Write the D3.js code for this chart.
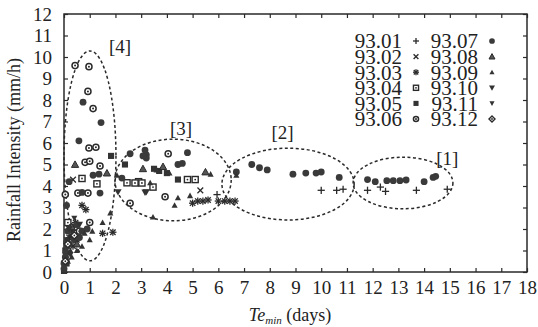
<!DOCTYPE html>
<html><head><meta charset="utf-8">
<script src="https://cdn.jsdelivr.net/npm/d3@7"></script>
<style>body{margin:0;background:#fff}svg{display:block}text{font-family:"Liberation Serif","Times New Roman",Times,serif;fill:#222}</style>
</head><body><svg id="c" width="538" height="327"></svg>
<script>
// ---- data ----
const xTicks = d3.range(0, 19);
const yTicks = d3.range(0, 13);
const seriesNames = ["93.01","93.02","93.03","93.04","93.05","93.06","93.07","93.08","93.09","93.10","93.11","93.12"];
const s9301 = [[0.05,0.3],[0.1,0.8],[0.2,1.5],[5.95,3.6],[10.0,3.8],[10.6,3.8],[10.85,3.85],[11.8,3.8],[12.3,3.95],[12.5,3.75],[13.7,3.8],[14.9,3.85]];
const s9302 = [[0.35,4.3],[5.3,3.8],[0.1,1.2],[0.3,1.9]];
const s9303 = [[5.0,3.2],[5.2,3.3],[5.4,3.3],[5.6,3.35],[6.0,3.3],[6.25,3.3],[6.45,3.3],[6.65,3.3],[1.5,1.8],[1.9,1.85],[0.7,3.1],[0.85,2.9],[0.45,2.3],[0.2,1.6],[0.35,1.2],[0.1,0.6],[0.3,1.7],[0.5,1.5]];
const s9304 = [[0.7,4.35],[1.28,4.1],[2.45,4.15],[2.9,4.2],[2.76,4.14],[3.03,4.14],[3.46,3.95],[4.8,4.3],[5.1,4.3],[0.5,1.8],[0.15,2.3]];
const s9305 = [[1.83,5.4],[2.37,5.0],[4.43,4.3],[0.0,0.05],[0.05,1.0],[0.1,0.4],[3.5,4.8],[3.7,4.7],[4.0,4.6]];
const s9306 = [[0.43,9.6],[0.97,9.55],[0.93,8.4],[1.13,7.6],[0.97,5.77],[1.24,5.8],[0.82,5.1],[1.0,5.15],[1.4,4.93],[0.54,3.67],[0.93,3.67],[1.0,2.3],[2.57,3.2],[4.05,5.5],[3.93,3.5],[0.05,3.6],[0.6,1.9]];
const s9307 = [[0.74,7.9],[1.44,6.95],[0.58,6.1],[1.13,4.5],[1.36,4.55],[1.4,3.67],[0.7,3.7],[0.1,3.1],[0.2,4.2],[2.25,4.37],[2.57,5.5],[3.15,5.67],[3.2,5.45],[3.2,5.3],[4.8,5.55],[4.43,5.0],[4.6,5.05],[3.07,5.4],
  [0.0,0.15],[0.0,0.4],[0.05,0.7],[0.08,0.9],[0.1,1.4],[0.12,1.2],[0.15,1.9],[0.2,1.3],[0.3,2.1],[0.4,1.5],[0.5,2.2],[0.6,1.6],[0.7,1.9],[0.9,2.0],
  [6.7,4.65],[7.3,5.0],[7.6,4.85],[7.9,4.75],[8.9,4.55],[9.4,4.6],[9.8,4.6],[10.0,4.65],[10.7,4.4],[11.8,4.3],[12.1,4.2],[12.55,4.25],[12.8,4.25],[13.06,4.25],[13.3,4.28],[14.0,4.2],[14.35,4.4],[14.45,4.45]];
const s9308 = [[0.43,5.0],[1.67,4.6],[3.07,4.8],[3.85,4.9],[5.5,4.65],[0.5,1.3],[0.3,2.1]];
const s9309 = [[1.8,2.75],[1.5,2.3],[1.0,1.5],[2.06,4.5],[3.35,4.15],[3.6,4.75],[4.1,4.6],[4.43,3.45],[4.3,3.1],[3.46,2.56],[4.9,3.55],[5.7,4.55],[6.7,4.5],[0.8,1.8],[0.25,1.0],
  [0.15,0.5],[0.3,0.7],[0.5,1.0],[0.7,1.2],[1.1,1.9]];
const s9310 = [[2.1,3.72],[3.15,3.7],[3.2,3.72],[0.2,2.0],[0.6,2.2]];
const s9311 = [[0.1,1.5],[0.4,2.5],[0.25,0.8]];
const s9312 = [[0.15,1.3],[0.4,1.7],[0.05,0.5]];
const seriesData = [s9301,s9302,s9303,s9304,s9305,s9306,s9307,s9308,s9309,s9310,s9311,s9312];
// groups: label, center x, center y, radius x, radius y (data units)
const groupLabels = ["[1]","[2]","[3]","[4]"];
const groupEllipses = [[13.18,4.14,1.94,1.2],[8.71,4.09,2.57,1.67],[4.24,4.28,2.26,1.9],[1.01,5.4,1.01,4.88]];
const groupLabelPos = [[14.9,5.0],[8.5,6.2],[4.55,6.35],[2.18,10.2]];

// ---- layout ----
const L=64,R=527,T=14,B=272;
const x=d3.scaleLinear().domain([0,18]).range([L,R]);
const y=d3.scaleLinear().domain([0,12]).range([B,T]);
const svg=d3.select("#c");
const ink="#2a2a2a";
const FF="'Liberation Serif','Times New Roman',Times,serif";

// frame
svg.append("rect").attr("x",L).attr("y",T).attr("width",R-L).attr("height",B-T).attr("fill","none").attr("stroke",ink).attr("stroke-width",1.5);
// axes with inward ticks
const gx=svg.append("g").attr("transform",`translate(0,${B})`).call(d3.axisBottom(x).tickValues(xTicks).tickSizeInner(-4).tickSizeOuter(0).tickPadding(8).tickFormat(d3.format("d")));
const gxt=svg.append("g").attr("transform",`translate(0,${T})`).call(d3.axisTop(x).tickValues(xTicks).tickSizeInner(-4).tickSizeOuter(0).tickFormat(""));
const gy=svg.append("g").attr("transform",`translate(${L},0)`).call(d3.axisLeft(y).tickValues(yTicks).tickSizeInner(-4).tickSizeOuter(0).tickPadding(12).tickFormat(d3.format("d")));
const gyr=svg.append("g").attr("transform",`translate(${R},0)`).call(d3.axisRight(y).tickValues(yTicks).tickSizeInner(-4).tickSizeOuter(0).tickFormat(""));
[gx,gxt,gy,gyr].forEach(g=>{g.attr("font-family",null).attr("font-size",null);g.select(".domain").remove();g.selectAll("line").attr("stroke",ink).attr("stroke-width",1.2);g.selectAll("text").style("font-family",FF).style("font-size","19px").attr("fill","#222");});
gx.selectAll("text").attr("dy","0.72em");

// titles
svg.append("text").attr("transform","translate(20,150) rotate(-90)").attr("text-anchor","middle").style("font-family",FF).style("font-size","18px").text("Rainfall Intensity (mm/h)");
const xt=svg.append("text").attr("x",290).attr("y",321).attr("text-anchor","middle").style("font-family",FF).style("font-size","18px");
xt.append("tspan").style("font-style","italic").text("Te");
xt.append("tspan").style("font-style","italic").style("font-size","11px").attr("dy",3).text("min");
xt.append("tspan").attr("dy",-3).text(" (days)");

// marker drawing
function marker(g,type,cx,cy,s){
  const k=s;
  const p=g.append("g").attr("transform",`translate(${cx},${cy})`);
  const line=(x1,y1,x2,y2)=>p.append("line").attr("x1",x1).attr("y1",y1).attr("x2",x2).attr("y2",y2).attr("stroke",ink).attr("stroke-width",1.3);
  switch(type){
    case 0: line(-k,0,k,0); line(0,-k,0,k); break;
    case 1: line(-k*0.8,-k*0.8,k*0.8,k*0.8); line(-k*0.8,k*0.8,k*0.8,-k*0.8); break;
    case 2: line(-k,0,k,0); line(0,-k,0,k); line(-k*0.75,-k*0.75,k*0.75,k*0.75); line(-k*0.75,k*0.75,k*0.75,-k*0.75); break;
    case 3: p.append("rect").attr("x",-k*0.85).attr("y",-k*0.85).attr("width",k*1.7).attr("height",k*1.7).attr("fill","#fff").attr("stroke",ink).attr("stroke-width",1.4);
            p.append("circle").attr("r",0.9).attr("fill",ink); break;
    case 4: p.append("rect").attr("x",-k*0.85).attr("y",-k*0.85).attr("width",k*1.7).attr("height",k*1.7).attr("fill","#333"); break;
    case 5: p.append("circle").attr("r",k*0.85).attr("fill","#fff").attr("stroke",ink).attr("stroke-width",1.5);
            p.append("circle").attr("r",1).attr("fill",ink); break;
    case 6: p.append("circle").attr("r",k*0.95).attr("fill","#3a3a3a"); break;
    case 7: p.append("path").attr("d",`M0,${-k}L${k},${k*0.8}L${-k},${k*0.8}Z`).attr("fill","#555").attr("stroke",ink).attr("stroke-width",1); break;
    case 8: p.append("path").attr("d",`M0,${-k*0.85}L${k*0.85},${k*0.7}L${-k*0.85},${k*0.7}Z`).attr("fill","#333"); break;
    case 9: p.append("path").attr("d",`M0,${k}L${k},${-k*0.8}L${-k},${-k*0.8}Z`).attr("fill","#333"); break;
    case 10: p.append("path").attr("d",`M0,${k*0.85}L${k*0.85},${-k*0.7}L${-k*0.85},${-k*0.7}Z`).attr("fill","#333"); break;
    case 11: p.append("path").attr("d",`M0,${-k}L${k},0L0,${k}L${-k},0Z`).attr("fill","#fff").attr("stroke",ink).attr("stroke-width",1.4);
             p.append("circle").attr("r",0.9).attr("fill",ink); break;
  }
}

// ellipses
const eg=svg.append("g");
groupEllipses.forEach(e=>{
  eg.append("ellipse").attr("cx",x(e[0])).attr("cy",y(e[1])).attr("rx",x(e[0]+e[2])-x(e[0])).attr("ry",y(e[1])-y(e[1]+e[3]))
    .attr("fill","none").attr("stroke",ink).attr("stroke-width",1.5).attr("stroke-dasharray","3,2.5");
});
groupLabels.forEach((t,i)=>{
  svg.append("text").attr("x",x(groupLabelPos[i][0])).attr("y",y(groupLabelPos[i][1])).attr("text-anchor","middle").style("font-family",FF).style("font-size","19px").text(t);
});

// points
const pg=svg.append("g");
seriesData.forEach((arr,si)=>{
  arr.forEach(d=>marker(pg,si,x(d[0]),y(d[1]),3.6));
});

// legend
const lg=svg.append("g");
seriesNames.forEach((n,i)=>{
  const col=Math.floor(i/6), row=i%6;
  const tx= col===0?402:478, mx= col===0?416:492, ty=41+row*15.6;
  lg.append("text").attr("x",tx).attr("y",ty).attr("dy","0.35em").attr("text-anchor","end").style("font-family",FF).style("font-size","21px").text(n);
  marker(lg,i,mx,ty,3);
});
</script></body></html>
